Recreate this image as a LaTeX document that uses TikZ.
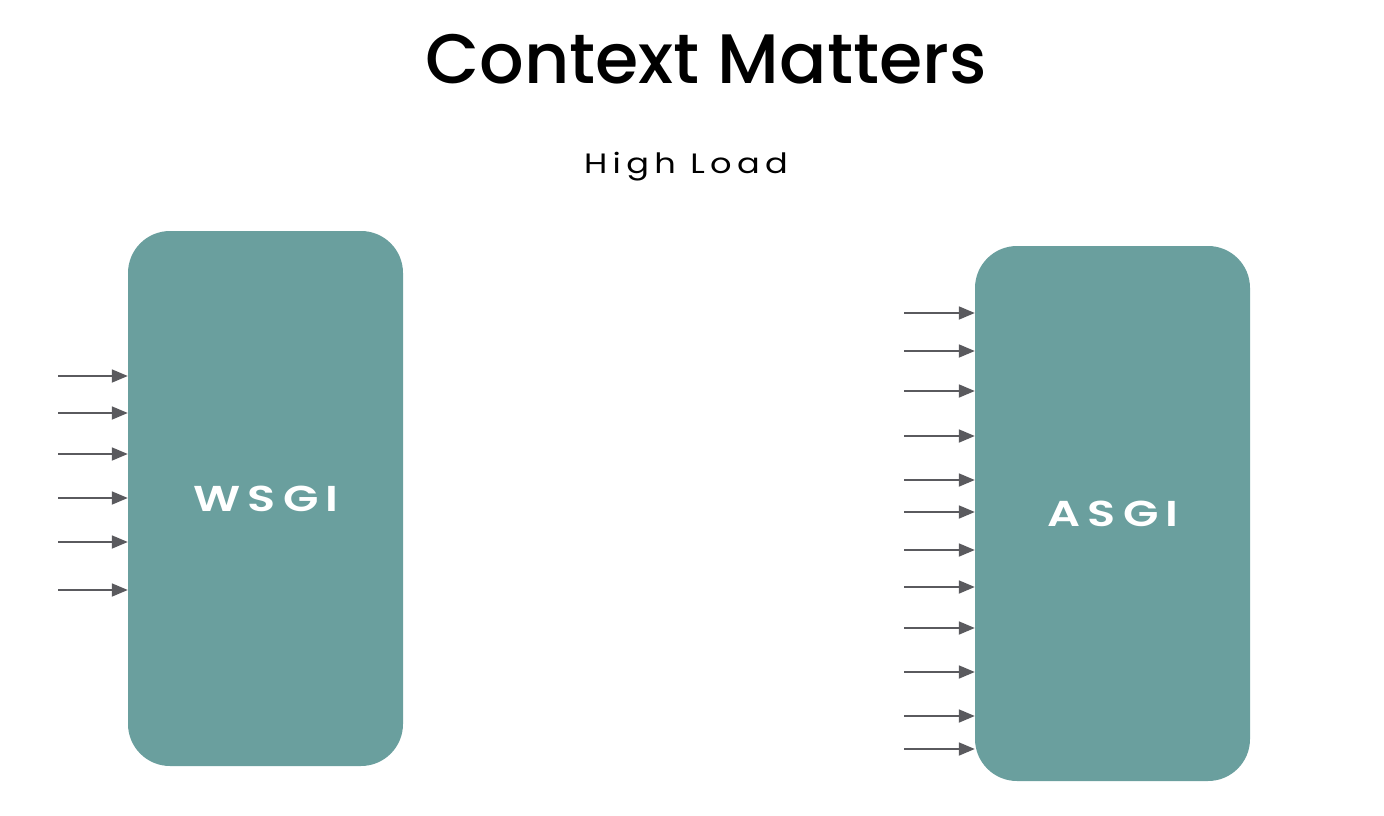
\documentclass[tikz,border=0pt]{standalone}
\usepackage{fontspec}
\setmainfont{Poppins}
\newfontfamily\titlefont{Poppins Medium}
\newfontfamily\spacedfont[LetterSpace=16]{Poppins}
\newfontfamily\boxfont[LetterSpace=16]{Poppins SemiBold}
\usetikzlibrary{arrows.meta}
\definecolor{teal}{HTML}{6A9F9E}
\definecolor{arrgray}{HTML}{5A5A5E}
\begin{document}
\begin{tikzpicture}[x=1pt,y=-1pt,
  server/.style={fill=teal,draw=none,rounded corners=42pt,minimum width=275pt,minimum height=535pt,inner sep=0pt},
  boxlabel/.style={text=white,font=\boxfont\fontsize{36}{40}\selectfont},
  req/.style={draw=arrgray,line width=1.8pt,-{Triangle[length=16pt,width=13pt]}}]
\useasboundingbox (0,0) rectangle (1384,816);
\node[font=\titlefont\fontsize{70}{80}\selectfont,anchor=base] (title) at (706,84) {Context Matters};
\node[font=\spacedfont\fontsize{28}{32}\selectfont,anchor=base] (load) at (686,173) {\scalebox{1.2}[1]{High Load}};
\node[server] (wsgi) at (265.5,498.5) {};
\node[boxlabel] (wsgil) at (266,498.5) {\scalebox{1.28}[1]{WSGI}};
\node[server] (asgi) at (1112.5,513.5) {};
\node[boxlabel] (asgil) at (1113,513.5) {\scalebox{1.28}[1]{ASGI}};
\foreach \y [count=\i] in {376,413,454,498,542,590}{
  \coordinate (w\i) at (58,\y);
  \draw[req] (w\i) -- (wsgi.west |- w\i);
}
\foreach \y [count=\i] in {313,351,391,436,480,512,550,587,628,672,716,749}{
  \coordinate (a\i) at (904,\y);
  \draw[req] (a\i) -- (asgi.west |- a\i);
}
\end{tikzpicture}
\end{document}
